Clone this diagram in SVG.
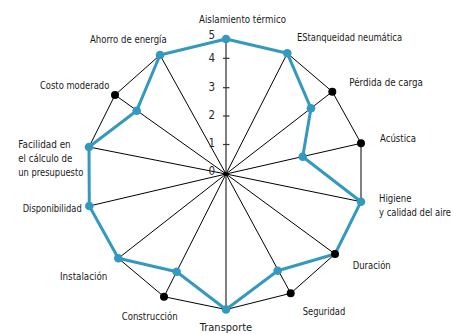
<svg xmlns="http://www.w3.org/2000/svg" width="454" height="334" viewBox="0 0 454 334">
<style>
.lbl{font-family:"Liberation Sans Narrow","DejaVu Sans Condensed","Liberation Sans",sans-serif;font-stretch:condensed;font-size:11px;fill:#1a1a1a}
.num{font-family:"Liberation Sans Narrow","DejaVu Sans Condensed","Liberation Sans",sans-serif;font-stretch:condensed;font-size:11.5px;fill:#2a2a2a;text-anchor:middle}
.spoke{stroke:#000;stroke-width:1;fill:none}
.axis{stroke:#808080;stroke-width:2;fill:none}
.tick{stroke:#333;stroke-width:1.2}
.outer{stroke:#000;stroke-width:1;fill:none;stroke-linejoin:round}
.data{stroke:#3399bf;stroke-width:3;fill:none;stroke-linejoin:round}
.bd{fill:#3399bf}
.kd{fill:#000}
</style>
<rect width="454" height="334" fill="#fff"/>
<g id="connectors">
<polyline class="spoke" points="226,174 287.3,53.3"/>
<polyline class="spoke" points="226,174 332.3,91.7"/>
<polyline class="spoke" points="226,174 361,143.3"/>
<polyline class="spoke" points="226,174 361,201.7"/>
<polyline class="spoke" points="226,174 335,254"/>
<polyline class="spoke" points="226,174 290.7,293.3"/>
<polyline class="spoke" points="226,174 164,296.7"/>
<polyline class="spoke" points="226,174 118.3,258.3"/>
<polyline class="spoke" points="226,174 89.3,206"/>
<polyline class="spoke" points="226,174 89,147"/>
<polyline class="spoke" points="226,174 115,95"/>
<polyline class="spoke" points="226,174 160,55"/>
<line class="axis" x1="226" y1="39" x2="226" y2="309.5"/>
<line class="tick" x1="223" y1="58.3" x2="229.5" y2="58.3"/>
<line class="tick" x1="223" y1="87.7" x2="229.5" y2="87.7"/>
<line class="tick" x1="223" y1="116" x2="229.5" y2="116"/>
<line class="tick" x1="223" y1="144.5" x2="229.5" y2="144.5"/>
<polygon class="outer" points="226,39 287.3,53.3 332.3,91.7 361,143.3 361,201.7 335,254 290.7,293.3 226,309.5 164,296.7 118.3,258.3 89.3,206 89,147 115,95 160,55"/>
<polygon class="data" points="226,39 287.3,53.3 311,108.3 302.7,156.7 361,201.7 335,254 277.7,270.7 226,309.5 176.7,271.7 118.3,258.3 89.3,206 89,147 136.7,110.7 160,55"/>
<circle cx="226" cy="174" r="2.2" fill="#000"/>
</g>
<g id="scale">
<text class="num" x="211.7" y="39">5</text>
<text class="num" x="211.7" y="61.5">4</text>
<text class="num" x="211.7" y="90.8">3</text>
<text class="num" x="211.7" y="119">2</text>
<text class="num" x="211.7" y="146.5">1</text>
<text class="num" x="211.7" y="175">0</text>
</g>
<g id="n-aislamiento"><circle class="bd" cx="226" cy="39" r="4.3"/><text class="lbl" x="199" y="23" textLength="87" lengthAdjust="spacingAndGlyphs">Aislamiento térmico</text></g>
<g id="n-estanqueidad"><circle class="bd" cx="287.3" cy="53.3" r="4.3"/><text class="lbl" x="297" y="40.5" textLength="105" lengthAdjust="spacingAndGlyphs">EStanqueidad neumática</text></g>
<g id="n-perdida"><circle class="kd" cx="332.3" cy="91.7" r="4"/><circle class="bd" cx="311" cy="108.3" r="4.3"/><text class="lbl" x="349.3" y="85.5" textLength="73.5" lengthAdjust="spacingAndGlyphs">Pérdida de carga</text></g>
<g id="n-acustica"><circle class="kd" cx="361" cy="143.3" r="4"/><circle class="bd" cx="302.7" cy="156.7" r="4.3"/><text class="lbl" x="380" y="142" textLength="36" lengthAdjust="spacingAndGlyphs">Acústica</text></g>
<g id="n-higiene"><circle class="bd" cx="361" cy="201.7" r="4.3"/><text class="lbl" x="379" y="201.5" textLength="32.5" lengthAdjust="spacingAndGlyphs">Higiene</text><text class="lbl" x="451" y="216" text-anchor="end" textLength="72" lengthAdjust="spacingAndGlyphs">y calidad del aire</text></g>
<g id="n-duracion"><circle class="kd" cx="335" cy="254" r="4"/><text class="lbl" x="352.7" y="269" textLength="38" lengthAdjust="spacingAndGlyphs">Duración</text></g>
<g id="n-seguridad"><circle class="kd" cx="290.7" cy="293.3" r="4"/><circle class="bd" cx="277.7" cy="270.7" r="4.3"/><text class="lbl" x="302.7" y="315" textLength="42.6" lengthAdjust="spacingAndGlyphs">Seguridad</text></g>
<g id="n-transporte"><circle class="bd" cx="226" cy="309.5" r="4.3"/><text class="lbl" x="226" y="331" text-anchor="middle">Transporte</text></g>
<g id="n-construccion"><circle class="kd" cx="164" cy="296.7" r="4"/><circle class="bd" cx="176.7" cy="271.7" r="4.3"/><text class="lbl" x="121.7" y="320" textLength="56" lengthAdjust="spacingAndGlyphs">Construcción</text></g>
<g id="n-instalacion"><circle class="bd" cx="118.3" cy="258.3" r="4.3"/><text class="lbl" x="60" y="279.5" textLength="47.3" lengthAdjust="spacingAndGlyphs">Instalación</text></g>
<g id="n-disponibilidad"><circle class="bd" cx="89.3" cy="206" r="4.3"/><text class="lbl" x="22.7" y="211.5" textLength="59" lengthAdjust="spacingAndGlyphs">Disponibilidad</text></g>
<g id="n-facilidad"><circle class="bd" cx="89" cy="147" r="4.3"/><text class="lbl" x="18.3" y="147.7" textLength="52.4" lengthAdjust="spacingAndGlyphs">Facilidad en</text><text class="lbl" x="18.3" y="161.8" textLength="54" lengthAdjust="spacingAndGlyphs">el cálculo de</text><text class="lbl" x="18.3" y="176" textLength="65" lengthAdjust="spacingAndGlyphs">un presupuesto</text></g>
<g id="n-costo"><circle class="kd" cx="115" cy="95" r="4"/><circle class="bd" cx="136.7" cy="110.7" r="4.3"/><text class="lbl" x="40" y="88.5" textLength="69.3" lengthAdjust="spacingAndGlyphs">Costo moderado</text></g>
<g id="n-ahorro"><circle class="bd" cx="160" cy="55" r="4.3"/><text class="lbl" x="90" y="42.7" textLength="76.7" lengthAdjust="spacingAndGlyphs">Ahorro de energía</text></g>
</svg>
